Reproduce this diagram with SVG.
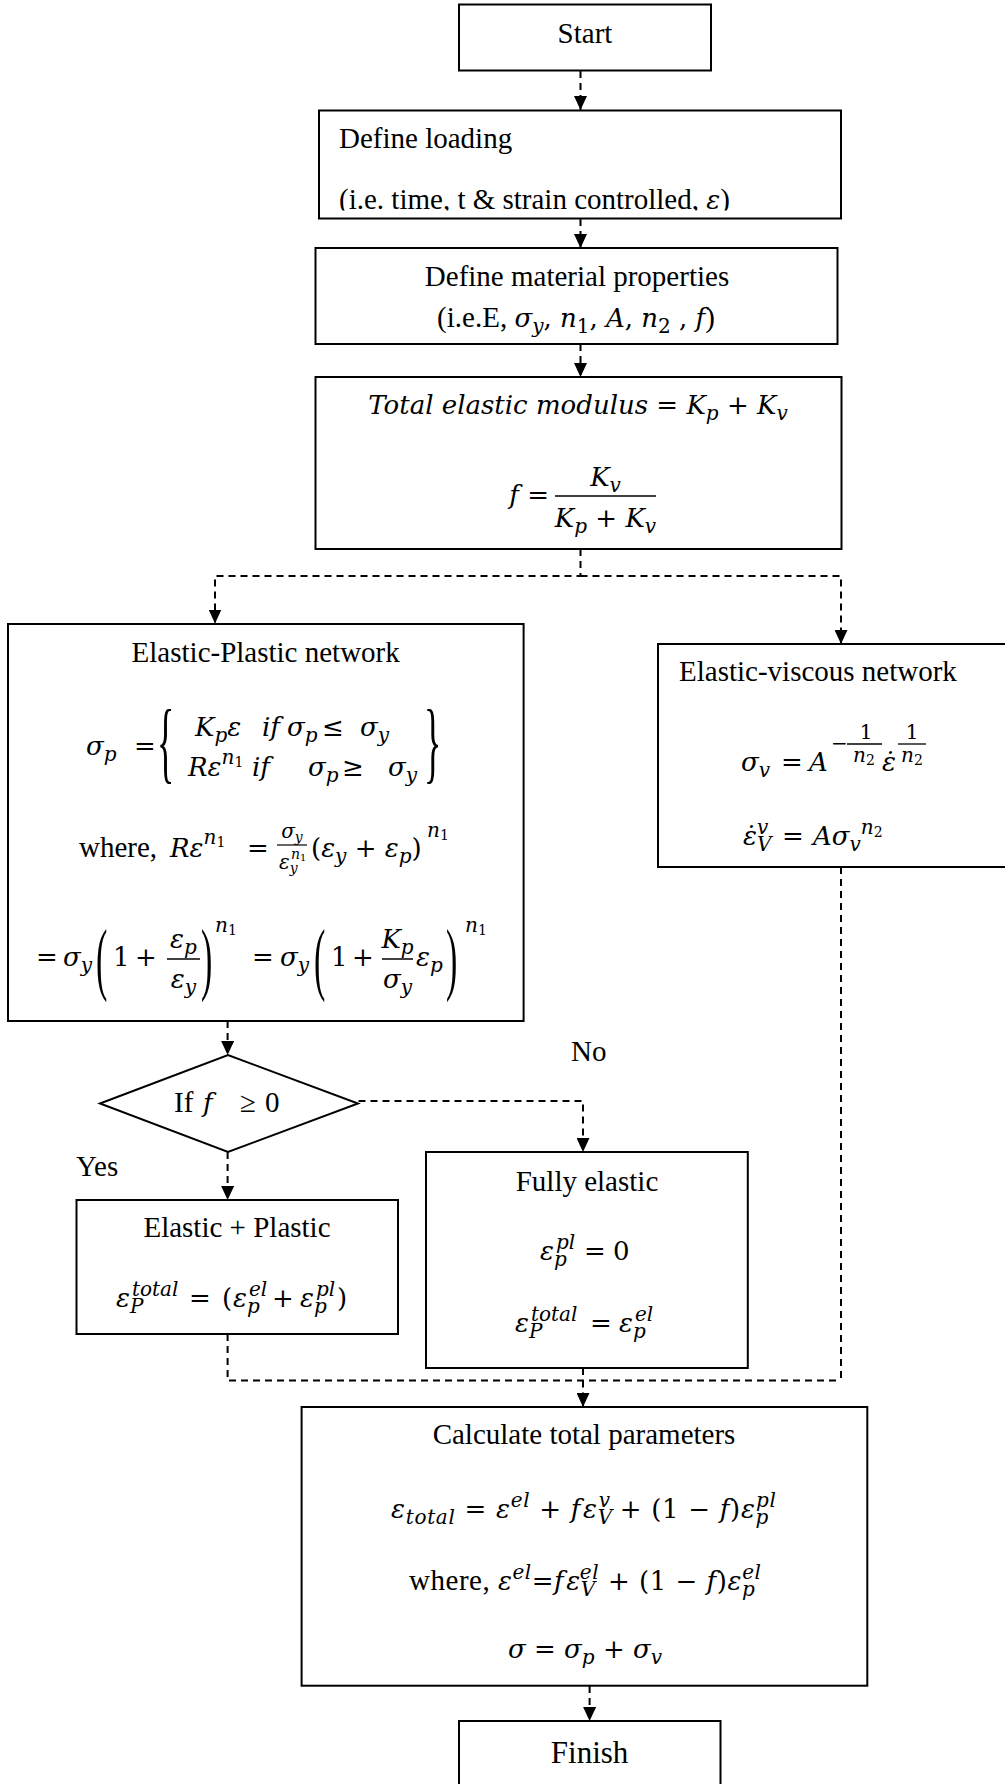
<svg xmlns="http://www.w3.org/2000/svg" width="1005" height="1784" viewBox="0 0 1005 1784">
<style>
.box{fill:#fff;stroke:#000;stroke-width:2}
.con{fill:none;stroke:#000;stroke-width:2;stroke-dasharray:7 5}
.tx{font-family:"Liberation Serif","Times New Roman",serif;font-size:29px;fill:#000}
.mi{font-family:"DejaVu Serif",serif;font-style:italic;font-size:26px;fill:#000}
.up{font-style:normal}
.sb{font-size:20px}
.ss{font-size:14px}
.fb{stroke:#000;stroke-width:1.5}
.br{font-family:"Liberation Serif",serif;font-size:36px;fill:#000}
.bp{font-family:"Liberation Serif",serif;font-size:34px;fill:#000}
</style>
<defs>
<marker id="ah" viewBox="0 0 14 13" refX="14" refY="6.5" markerWidth="14" markerHeight="13" markerUnits="userSpaceOnUse" orient="auto"><path d="M0,0 L14,6.5 L0,13 z" fill="#000"/></marker>
<clipPath id="clipDL"><rect x="319" y="110" width="522" height="100.5"/></clipPath>
</defs>

<g id="connectors">
<path class="con" d="M580.5,71 V110" marker-end="url(#ah)"/>
<path class="con" d="M580.5,219 V248" marker-end="url(#ah)"/>
<path class="con" d="M580.5,344 V377" marker-end="url(#ah)"/>
<path class="con" d="M580.5,549 V576 H215 V623.5" marker-end="url(#ah)"/>
<path class="con" d="M580.5,576 H841 V644" marker-end="url(#ah)"/>
<path class="con" d="M227.6,1021 V1055" marker-end="url(#ah)"/>
<path class="con" d="M358.5,1101 H583 V1152" marker-end="url(#ah)"/>
<path class="con" d="M227.6,1152 V1200" marker-end="url(#ah)"/>
<path class="con" d="M227.6,1334 V1380.6 H841"/>
<path class="con" d="M841,867 V1380.6"/>
<path class="con" d="M583,1368 V1380.6"/>
<path class="con" d="M583,1380.6 V1407" marker-end="url(#ah)"/>
<path class="con" d="M589.6,1686 V1721" marker-end="url(#ah)"/>
</g>

<g id="start">
<rect class="box" x="459" y="4.5" width="252" height="66"/>
<text class="tx" x="585" y="43" text-anchor="middle">Start</text>
</g>

<g id="define-loading">
<rect class="box" x="319" y="110.5" width="522" height="108"/>
<text class="tx" x="339" y="148">Define loading</text>
<text class="tx" x="339" y="209" clip-path="url(#clipDL)">(i.e. time, t &amp; strain controlled, <tspan class="mi">ε</tspan>)</text>
</g>

<g id="define-material">
<rect class="box" x="315.5" y="248" width="522" height="96"/>
<text class="tx" x="577" y="286" text-anchor="middle">Define material properties</text>
<text class="tx" x="576" y="327" text-anchor="middle">(i.e.E, <tspan class="mi">σ<tspan class="sb" dy="6">y</tspan><tspan class="up" dy="-6">, </tspan>n<tspan class="sb up" dy="6">1</tspan><tspan class="up" dy="-6">, </tspan>A<tspan class="up">, </tspan>n<tspan class="sb up" dy="6">2</tspan><tspan class="up" dy="-6"> , </tspan>f</tspan>)</text>
</g>

<g id="total-modulus">
<rect class="box" x="315.5" y="377" width="526" height="172"/>
<text class="mi" x="578" y="414" text-anchor="middle">Total elastic modulus <tspan class="up">= </tspan> K<tspan class="sb" dy="6">p</tspan><tspan class="up" dy="-6"> + </tspan>K<tspan class="sb" dy="6">v</tspan></text>
<text class="mi" x="549" y="504" text-anchor="end">f <tspan class="up">=</tspan></text>
<line class="fb" x1="555" y1="496" x2="656" y2="496"/>
<text class="mi" x="605.5" y="486" text-anchor="middle">K<tspan class="sb" dy="6">v</tspan></text>
<text class="mi" x="605.5" y="527" text-anchor="middle">K<tspan class="sb" dy="6">p</tspan><tspan class="up" dy="-6"> + </tspan>K<tspan class="sb" dy="6">v</tspan></text>
</g>

<g id="elastic-plastic">
<rect class="box" x="8" y="624" width="515.6" height="397"/>
<text class="tx" x="265.7" y="662" text-anchor="middle">Elastic-Plastic network</text>
<text class="mi" y="755"><tspan x="86">σ</tspan><tspan class="sb" dy="6">p</tspan><tspan class="up" x="134" dy="-6">=</tspan></text>
<text class="br" transform="translate(157,771.5) scale(1,2.5)">{</text>
<text class="br" transform="translate(424,771.5) scale(1,2.5)">}</text>
<text class="mi" y="736"><tspan x="195">K</tspan><tspan class="sb" dy="6">p</tspan><tspan dy="-6">ε</tspan><tspan x="262">if</tspan><tspan x="287">σ</tspan><tspan class="sb" dy="6">p</tspan><tspan class="up" x="322" dy="-6">≤</tspan><tspan x="360">σ</tspan><tspan class="sb" dy="6">y</tspan></text>
<text class="mi" y="776"><tspan x="188">Rε</tspan><tspan class="sb" dy="-12">n</tspan><tspan class="ss up" dy="3">1</tspan><tspan x="252" dy="9">if</tspan><tspan x="308">σ</tspan><tspan class="sb" dy="6">p</tspan><tspan class="up" x="342" dy="-6">≥</tspan><tspan x="388">σ</tspan><tspan class="sb" dy="6">y</tspan></text>

<text class="tx" x="79" y="857">where,</text>
<text class="mi" y="857"><tspan x="170">Rε</tspan><tspan class="sb" dy="-13">n</tspan><tspan class="ss up" dy="3">1</tspan><tspan class="up" x="247" dy="10">=</tspan></text>
<text class="mi sb" x="292" y="838" text-anchor="middle">σ<tspan class="ss" dy="4">y</tspan></text>
<line x1="277" y1="845" x2="307" y2="845" stroke="#000" stroke-width="1.2"/>
<text class="mi" y="869"><tspan class="sb" x="279">ε</tspan><tspan class="ss" dy="4">y</tspan><tspan class="ss" x="291" dy="-14">n</tspan><tspan class="up" font-size="10" dy="2">1</tspan></text>
<text class="mi" y="857"><tspan class="up" x="311">(</tspan>ε<tspan class="sb" dy="6">y</tspan><tspan class="up" dy="-6"> + </tspan>ε<tspan class="sb" dy="6">p</tspan><tspan class="up" dy="-6">)</tspan></text>
<text class="mi" x="427" y="837"><tspan class="sb">n</tspan><tspan class="ss up" dy="3">1</tspan></text>

<text class="mi" y="966"><tspan class="up" x="36">=</tspan><tspan x="63">σ</tspan><tspan class="sb" dy="6">y</tspan></text>
<text class="bp" transform="translate(96,985) scale(1,2.35)">(</text>
<text class="mi up" y="966"><tspan x="113">1</tspan><tspan x="135">+</tspan></text>
<line class="fb" x1="167" y1="959" x2="200" y2="959"/>
<text class="mi" x="183.5" y="948" text-anchor="middle">ε<tspan class="sb" dy="6">p</tspan></text>
<text class="mi" x="183.5" y="988" text-anchor="middle">ε<tspan class="sb" dy="6">y</tspan></text>
<text class="bp" transform="translate(201,985) scale(1,2.35)">)</text>
<text class="mi" x="215" y="932"><tspan class="sb">n</tspan><tspan class="ss up" dy="3">1</tspan></text>
<text class="mi" y="966"><tspan class="up" x="252">=</tspan><tspan x="280">σ</tspan><tspan class="sb" dy="6">y</tspan></text>
<text class="bp" transform="translate(314,985) scale(1,2.35)">(</text>
<text class="mi up" y="966"><tspan x="331">1</tspan><tspan x="352">+</tspan></text>
<line class="fb" x1="382" y1="959" x2="413" y2="959"/>
<text class="mi" x="397.5" y="948" text-anchor="middle">K<tspan class="sb" dy="6">p</tspan></text>
<text class="mi" x="397.5" y="988" text-anchor="middle">σ<tspan class="sb" dy="6">y</tspan></text>
<text class="mi" x="416" y="966">ε<tspan class="sb" dy="6">p</tspan></text>
<text class="bp" transform="translate(446,985) scale(1,2.35)">)</text>
<text class="mi" x="465" y="932"><tspan class="sb">n</tspan><tspan class="ss up" dy="3">1</tspan></text>
</g>

<g id="elastic-viscous">
<rect class="box" x="658" y="644" width="360" height="223"/>
<text class="tx" x="679" y="681">Elastic-viscous network</text>
<text class="mi" y="771"><tspan x="741">σ</tspan><tspan class="sb" dy="6">v</tspan><tspan class="up" x="781" dy="-6">=</tspan><tspan x="809">A</tspan></text>
<text class="mi up sb" x="831" y="750">−</text>
<line x1="847" y1="744" x2="882" y2="744" stroke="#000" stroke-width="1.3"/>
<text class="mi up sb" x="866" y="739" text-anchor="middle">1</text>
<text class="mi" x="864" y="762" text-anchor="middle"><tspan class="sb">n</tspan><tspan class="ss up" dy="3">2</tspan></text>
<text class="mi" x="882" y="771">ε̇</text>
<line x1="898" y1="744" x2="926" y2="744" stroke="#000" stroke-width="1.3"/>
<text class="mi up sb" x="912" y="739" text-anchor="middle">1</text>
<text class="mi" x="912" y="762" text-anchor="middle"><tspan class="sb">n</tspan><tspan class="ss up" dy="3">2</tspan></text>
<text class="mi" y="845"><tspan x="743">ε̇</tspan><tspan class="sb" dy="6">V</tspan><tspan class="sb" x="757" dy="-17">v</tspan><tspan class="up" x="782" dy="11">=</tspan><tspan x="813">Aσ</tspan><tspan class="sb" dy="6">v</tspan><tspan class="sb" dy="-17">n</tspan><tspan class="ss up" dy="3">2</tspan></text>
</g>

<g id="decision">
<polygon class="box" points="100,1103.5 228,1055 358,1103.5 228,1152"/>
<text class="tx" y="1112"><tspan x="174">If</tspan><tspan class="mi" x="203">f</tspan><tspan x="240">≥</tspan><tspan x="265">0</tspan></text>
</g>
<text class="tx" x="571" y="1061">No</text>
<text class="tx" x="76" y="1176">Yes</text>

<g id="elastic-plus-plastic">
<rect class="box" x="76.5" y="1200" width="321.5" height="134"/>
<text class="tx" x="237" y="1237" text-anchor="middle">Elastic + Plastic</text>
<text class="mi" y="1307"><tspan x="116">ε</tspan><tspan class="sb" x="130" dy="6">P</tspan><tspan class="sb" x="132" dy="-17">total</tspan><tspan class="up" x="189" dy="11">=</tspan><tspan class="up" x="222">(</tspan><tspan x="233">ε</tspan><tspan class="sb" x="247" dy="6">p</tspan><tspan class="sb" x="249" dy="-17">el</tspan><tspan class="up" x="272" dy="11">+</tspan><tspan x="300">ε</tspan><tspan class="sb" x="314" dy="6">p</tspan><tspan class="sb" x="316" dy="-17">pl</tspan><tspan class="up" x="337" dy="11">)</tspan></text>
</g>

<g id="fully-elastic">
<rect class="box" x="426" y="1152" width="321.8" height="216"/>
<text class="tx" x="587" y="1191" text-anchor="middle">Fully elastic</text>
<text class="mi" y="1260"><tspan x="540">ε</tspan><tspan class="sb" x="554" dy="6">p</tspan><tspan class="sb" x="556" dy="-17">pl</tspan><tspan class="up" x="584" dy="11">=</tspan><tspan class="up" x="613">0</tspan></text>
<text class="mi" y="1332"><tspan x="515">ε</tspan><tspan class="sb" x="529" dy="6">P</tspan><tspan class="sb" x="531" dy="-17">total</tspan><tspan class="up" x="590" dy="11">=</tspan><tspan x="619">ε</tspan><tspan class="sb" x="633" dy="6">p</tspan><tspan class="sb" x="635" dy="-17">el</tspan></text>
</g>

<g id="calculate">
<rect class="box" x="301.6" y="1407" width="565.7" height="278.7"/>
<text class="tx" x="584" y="1444" text-anchor="middle">Calculate total parameters</text>
<text class="mi" x="391" y="1518" textLength="385" lengthAdjust="spacing">ε<tspan class="sb" dy="6">total</tspan><tspan class="up" dy="-6"> = </tspan>ε<tspan class="sb" dy="-11">el</tspan><tspan class="up" dy="11"> + </tspan>f<tspan dx="2">ε</tspan><tspan class="sb" dy="6">V</tspan><tspan class="sb" dx="-14" dy="-17">v</tspan><tspan class="up" dy="11"> + (1 − </tspan>f<tspan class="up">)</tspan>ε<tspan class="sb" dy="6">p</tspan><tspan class="sb" dx="-13" dy="-17">pl</tspan></text>
<text x="409" y="1590" textLength="352" lengthAdjust="spacing"><tspan class="tx">where, </tspan><tspan class="mi">ε<tspan class="sb" dy="-11">el</tspan><tspan class="up" dy="11">=</tspan>f<tspan dx="2">ε</tspan><tspan class="sb" dy="6">V</tspan><tspan class="sb" dx="-14" dy="-17">el</tspan><tspan class="up" dy="11"> + (1 − </tspan>f<tspan class="up">)</tspan>ε<tspan class="sb" dy="6">p</tspan><tspan class="sb" dx="-13" dy="-17">el</tspan></tspan></text>
<text class="mi" x="585" y="1658" text-anchor="middle">σ<tspan class="up"> = </tspan>σ<tspan class="sb" dy="6">p</tspan><tspan class="up" dy="-6"> + </tspan>σ<tspan class="sb" dy="6">v</tspan></text>
</g>

<g id="finish">
<rect class="box" x="459" y="1721" width="261.5" height="80"/>
<text class="tx" x="589.6" y="1763" text-anchor="middle" style="font-size:31px">Finish</text>
</g>
</svg>
